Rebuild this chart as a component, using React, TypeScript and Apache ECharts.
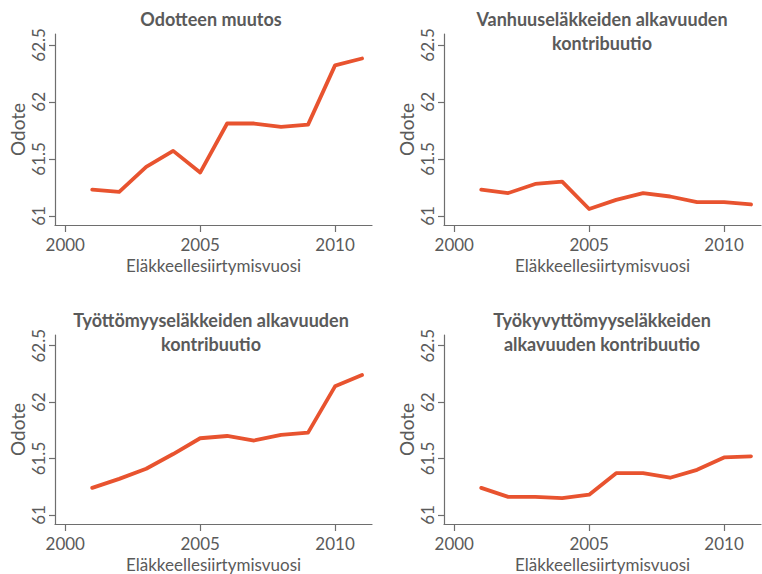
import React, { useEffect, useRef } from "react";
import * as echarts from "echarts";

const years = [2001, 2002, 2003, 2004, 2005, 2006, 2007, 2008, 2009, 2010, 2011];
const totalChange = [61.23, 61.21, 61.43, 61.57, 61.38, 61.81, 61.81, 61.78, 61.8, 62.32, 62.38];
const oldAge = [61.23, 61.2, 61.28, 61.3, 61.06, 61.14, 61.2, 61.17, 61.12, 61.12, 61.1];
const unemployment = [61.24, 61.32, 61.41, 61.54, 61.68, 61.7, 61.66, 61.71, 61.73, 62.14, 62.24];
const disability = [61.24, 61.16, 61.16, 61.15, 61.18, 61.37, 61.37, 61.33, 61.4, 61.51, 61.52];
const titles = [
  "Odotteen muutos",
  "Vanhuuseläkkeiden alkavuuden\nkontribuutio",
  "Työttömyyseläkkeiden alkavuuden\nkontribuutio",
  "Työkyvyttömyyseläkkeiden\nalkavuuden kontribuutio",
];
const yTicks = [61, 61.5, 62, 62.5];
const xTicks = [2000, 2005, 2010];
const yAxisName = "Odote";
const xAxisName = "Eläkkeellesiirtymisvuosi";

const seriesData = [totalChange, oldAge, unemployment, disability];

export default function App() {
  const ref = useRef<HTMLDivElement>(null);
  useEffect(() => {
    if (!ref.current) return;
    const chart = echarts.init(ref.current, null, { renderer: "svg" });
    const axisColor = "#6e6e6e";
    const textColor = "#5a5a5a";
    const font = "Lato";
    const grids = [
      { left: 55, top: 34, width: 317, height: 191 },
      { left: 444, top: 34, width: 317, height: 191 },
      { left: 55, top: 335, width: 317, height: 191 },
      { left: 444, top: 335, width: 317, height: 191 },
    ];
    const titleCenters = [
      { x: 211, y: 19 },
      { x: 602, y: 31 },
      { x: 211, y: 332 },
      { x: 602, y: 332 },
    ];
    const option: any = {
      animation: false,
      backgroundColor: "#ffffff",
      grid: grids.map((g) => ({ ...g, containLabel: false })),
      xAxis: grids.map((_, i) => ({
        type: "value",
        gridIndex: i,
        min: 1999.62,
        max: 2011.37,
        splitLine: { show: false },
        axisLine: { show: true, onZero: false, lineStyle: { color: axisColor, width: 1.2 } },
        axisTick: { show: true, length: 7, customValues: xTicks, lineStyle: { color: axisColor, width: 1.2 } },
        axisLabel: {
          customValues: xTicks,
          color: textColor,
          fontFamily: font,
          fontSize: 17,
          margin: 11,
          formatter: (v: number) => String(Math.round(v)),
        },
        name: xAxisName,
        nameLocation: "middle",
        nameGap: 32,
        nameTextStyle: { color: textColor, fontFamily: font, fontSize: 17 },
      })),
      yAxis: grids.map((_, i) => ({
        type: "value",
        gridIndex: i,
        min: 60.92,
        max: 62.595,
        splitLine: { show: false },
        axisLine: { show: true, onZero: false, lineStyle: { color: axisColor, width: 1.2 } },
        axisTick: { show: true, length: 6, customValues: yTicks, lineStyle: { color: axisColor, width: 1.2 } },
        axisLabel: {
          customValues: yTicks,
          rotate: 90,
          color: textColor,
          fontFamily: font,
          fontSize: 17,
          margin: 8,
          formatter: (v: number) => String(Math.round(v * 10) / 10),
        },
        name: yAxisName,
        nameLocation: "middle",
        nameGap: 28,
        nameRotate: 90,
        nameTextStyle: { color: textColor, fontFamily: font, fontSize: 19 },
      })),
      series: seriesData.map((d, i) => ({
        type: "line",
        xAxisIndex: i,
        yAxisIndex: i,
        data: years.map((y, k) => [y, d[k]]),
        showSymbol: false,
        symbol: "none",
        lineStyle: { color: "#e8532f", width: 3.8, join: "round", cap: "round" },
      })),
      graphic: titles.map((t, i) => ({
        type: "text",
        x: titleCenters[i].x,
        y: titleCenters[i].y,
        style: {
          text: t,
          align: "center",
          verticalAlign: "middle",
          fill: textColor,
          font: `bold 18px ${font}`,
          lineHeight: 24,
        },
      })),
    };
    chart.setOption(option);
    return () => chart.dispose();
  }, []);
  return (
    <div
      ref={ref}
      style={{ position: "fixed", left: 0, top: 0, width: 762, height: 574 }}
    />
  );
}
